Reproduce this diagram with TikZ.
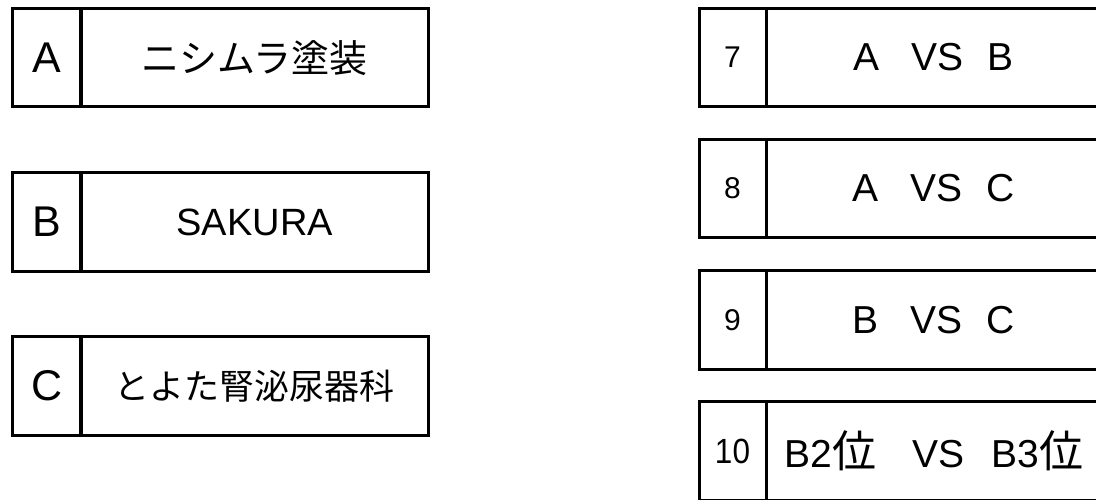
\documentclass[tikz,border=0pt]{standalone}
\usepackage{fontspec}
\setmainfont{Liberation Sans}
\newfontfamily\cjk{Noto Sans CJK JP}
\usepackage{graphicx}
\newcommand\fsz[1]{\fontsize{#1bp}{#1bp}\selectfont}
\newcommand\gapA{\hspace*{32bp}}
\newcommand\gapB{\hspace*{24bp}}
\newcommand\gapC{\hspace*{36bp}}
\newcommand\gapD{\hspace*{27bp}}
\newcommand\kurai{{\cjk\fsz{44}位}}
\begin{document}
\begin{tikzpicture}[x=1bp,y=-1bp,
  cell/.style={draw, line width=3bp, inner sep=0pt, anchor=center, minimum height=98.5bp},
  lcellL/.style={cell, minimum width=68.5bp, font=\fsz{43}},
  lcellM/.style={cell, minimum width=347.5bp},
  rcellL/.style={cell, minimum width=67bp, font=\fsz{30}},
  rcellM/.style={cell, minimum width=336bp, font=\fsz{39}}]
\useasboundingbox (0,0) rectangle (1096,500);
% left column
\node[lcellL] (la) at (46.75,57.75) {A};
\node[lcellM, font=\cjk\fsz{38}] (ma) at (254.75,57.75) {ニシムラ塗装};
\node[lcellL] (lb) at (46.75,222) {B};
\node[lcellM, font=\fsz{38}] (mb) at (254.75,222) {SAKURA};
\node[lcellL] (lc) at (46.75,386) {C};
\node[lcellM, font=\cjk\fsz{35}] (mc) at (254.75,386) {とよた腎泌尿器科};
% right column
\node[rcellL] (r7) at (732.5,57.5) {7};
\node[rcellM] (m7) at (934,57.5) {A\gapA VS\gapB B};
\node[rcellL] (r8) at (732.5,188.5) {8};
\node[rcellM] (m8) at (934,188.5) {A\gapA VS\gapB C};
\node[rcellL] (r9) at (732.5,320) {9};
\node[rcellM] (m9) at (934,320) {B\gapA VS\gapB C};
\node[rcellL, font=\fsz{35}] (r10) at (732.5,451) {\scalebox{0.9}[1]{10}};
\node[rcellM] (m10) at (934,451) {B2\kurai\gapC VS\gapD B3\kurai};
\end{tikzpicture}
\end{document}
